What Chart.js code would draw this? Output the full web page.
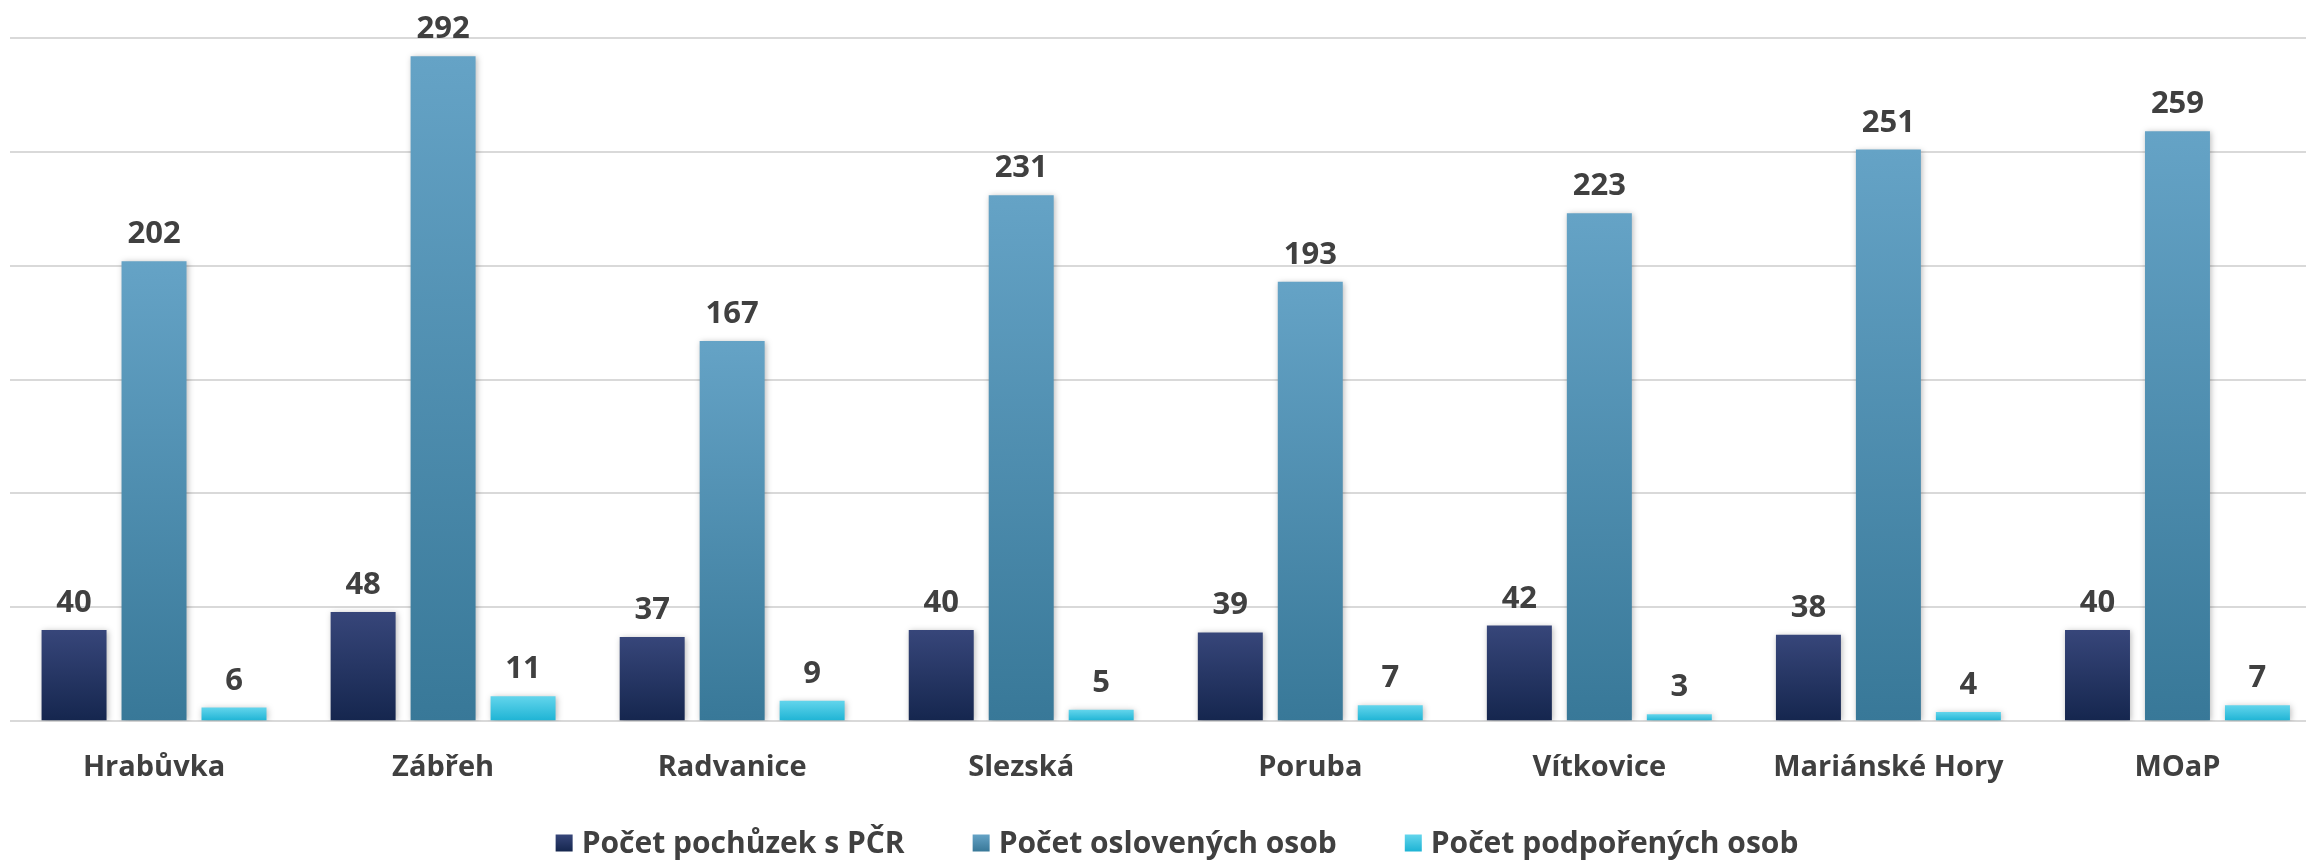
<!DOCTYPE html>
<html>
<head>
<meta charset="utf-8">
<script src="https://cdn.jsdelivr.net/npm/chart.js@4/dist/chart.umd.min.js"></script>
<style>
    html, body { margin: 0; padding: 0; background: #fff; overflow: hidden; }
    #wrap { width: 2322px; height: 861px; }
</style>
</head>
<body>
<div id="wrap"><canvas id="patrolChart" width="2322" height="861"></canvas></div>
<script>
const categories = ["Hrabůvka", "Zábřeh", "Radvanice", "Slezská", "Poruba", "Vítkovice", "Mariánské Hory", "MOaP"];
const pochuzky = [40, 48, 37, 40, 39, 42, 38, 40];
const osloveni = [202, 292, 167, 231, 193, 223, 251, 259];
const podporeni = [6, 11, 9, 5, 7, 3, 4, 7];
const yTicks = [0, 50, 100, 150, 200, 250, 300];

const FONT = "'Open Sans', Lato, sans-serif";
const TEXT = "#404040";
const shades = [
    ["#37467a", "#15264e"],
    ["#65a3c6", "#387898"],
    ["#63d5ec", "#1db3d4"],
];

// per-bar vertical gradient, lighter at the top
function barGradient(topColor, bottomColor) {
    return function (context) {
        const chart = context.chart;
        if (!chart.chartArea) return bottomColor;
        const y = chart.scales.y;
        const yTop = y.getPixelForValue(context.raw);
        const yBot = y.getPixelForValue(0);
        if (!isFinite(yTop) || yTop === yBot) return bottomColor;
        const g = chart.ctx.createLinearGradient(0, yTop, 0, yBot);
        g.addColorStop(0, topColor);
        g.addColorStop(1, bottomColor);
        return g;
    };
}

const barShadow = {
    id: "barShadow",
    beforeDatasetsDraw(chart) {
        const ctx = chart.ctx;
        ctx.save();
        ctx.shadowColor = "rgba(0,0,0,0.28)";
        ctx.shadowBlur = 6;
        ctx.shadowOffsetX = 1;
        ctx.shadowOffsetY = 1;
    },
    afterDatasetsDraw(chart) {
        chart.ctx.restore();
    },
};

const valueLabels = {
    id: "valueLabels",
    afterDatasetsDraw(chart) {
        const ctx = chart.ctx;
        ctx.save();
        ctx.font = "bold 31px " + FONT;
        ctx.fillStyle = TEXT;
        ctx.textAlign = "center";
        ctx.textBaseline = "alphabetic";
        chart.data.datasets.forEach((ds, i) => {
            const meta = chart.getDatasetMeta(i);
            meta.data.forEach((bar, j) => {
                ctx.fillText(ds.data[j], bar.x, bar.y - 18);
            });
        });
        ctx.restore();
    },
};

// legend drawn by hand so the gap between items can differ from its height
const bottomLegend = {
    id: "bottomLegend",
    afterDraw(chart) {
        const ctx = chart.ctx;
        const box = 17, textGap = 9, itemGap = 68;
        const y = chart.height - 18;
        ctx.save();
        ctx.font = "bold 30px " + FONT;
        ctx.textBaseline = "middle";
        ctx.textAlign = "left";
        const items = chart.data.datasets.map((ds) => ({ text: ds.label, w: ctx.measureText(ds.label).width }));
        let total = 0;
        items.forEach((it, i) => { total += box + textGap + it.w + (i ? itemGap : 0); });
        let x = chart.width / 2 + 16 - total / 2;
        items.forEach((it, i) => {
            const g = ctx.createLinearGradient(0, y - box / 2, 0, y + box / 2);
            g.addColorStop(0, shades[i][0]);
            g.addColorStop(1, shades[i][1]);
            ctx.fillStyle = g;
            ctx.fillRect(x, y - box / 2, box, box);
            ctx.fillStyle = TEXT;
            ctx.fillText(it.text, x + box + textGap, y + 1);
            x += box + textGap + it.w + itemGap;
        });
        ctx.restore();
    },
};

new Chart(document.getElementById("patrolChart"), {
    type: "bar",
    data: {
        labels: categories,
        datasets: [
            {
                label: "Počet pochůzek s PČR",
                data: pochuzky,
                backgroundColor: barGradient(shades[0][0], shades[0][1]),
            },
            {
                label: "Počet oslovených osob",
                data: osloveni,
                backgroundColor: barGradient(shades[1][0], shades[1][1]),
            },
            {
                label: "Počet podpořených osob",
                data: podporeni,
                backgroundColor: barGradient(shades[2][0], shades[2][1]),
            },
        ],
    },
    options: {
        responsive: false,
        maintainAspectRatio: false,
        animation: false,
        devicePixelRatio: 1,
        layout: { padding: { left: 9.5, right: 0, top: 38, bottom: 47 } },
        datasets: {
            bar: { categoryPercentage: 0.83, barPercentage: 0.8125 },
        },
        scales: {
            x: {
                grid: { display: false, drawTicks: false },
                border: { display: false },
                ticks: {
                    color: TEXT,
                    font: { family: FONT, size: 29, weight: "bold" },
                    padding: 29,
                },
            },
            y: {
                min: 0,
                max: 300,
                afterBuildTicks: (axis) => {
                    axis.ticks = yTicks.map((v) => ({ value: v }));
                },
                ticks: { display: false },
                border: { display: false },
                grid: { color: "#d9d9d9", lineWidth: 2, drawTicks: false },
            },
        },
        plugins: {
            legend: { display: false },
            tooltip: { enabled: false },
        },
    },
    plugins: [barShadow, valueLabels, bottomLegend],
});
</script>
</body>
</html>
